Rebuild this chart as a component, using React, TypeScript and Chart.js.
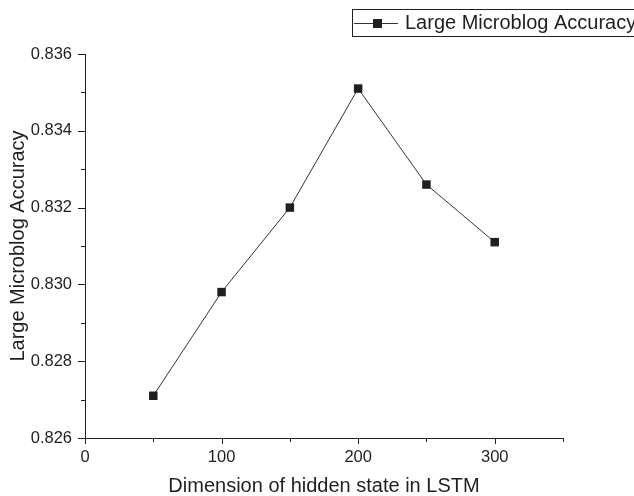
import React, { useEffect, useRef } from "react";
import { Chart, registerables } from "chart.js";

Chart.register(...registerables);

const dims = [50, 100, 150, 200, 250, 300];
const accuracy = [0.8271, 0.8298, 0.832, 0.8351, 0.8326, 0.8311];
const seriesLabel = "Large Microblog Accuracy";
const xTitle = "Dimension of hidden state in LSTM";
const yTitle = "Large Microblog Accuracy";

const FONT = "'Liberation Sans', Arial, sans-serif";
const INK = "#1f1f1f";

const tickPlugin = {
  id: "customTicks",
  afterDraw(chart: any) {
    const ctx = chart.ctx;
    const xs = chart.scales.x;
    const ys = chart.scales.y;
    ctx.save();
    ctx.strokeStyle = INK;
    ctx.lineWidth = 1;
    xs.ticks.forEach((t: any) => {
      const px = Math.round(xs.getPixelForValue(t.value)) + 0.5;
      const major = t.value % 100 === 0;
      const len = major ? 6 : 4;
      ctx.beginPath();
      ctx.moveTo(px, xs.top);
      ctx.lineTo(px, xs.top + len);
      ctx.stroke();
    });
    ys.ticks.forEach((t: any) => {
      const py = Math.round(ys.getPixelForValue(t.value)) + 0.5;
      const major = Math.round(t.value * 1000) % 2 === 0;
      const len = major ? 7 : 4;
      ctx.beginPath();
      ctx.moveTo(ys.right, py);
      ctx.lineTo(ys.right - len, py);
      ctx.stroke();
    });
    // legend
    const lx = 352, ly = 9, lw = 300, lh = 27;
    const cy = ly + lh / 2;
    ctx.strokeRect(lx + 0.5, ly + 0.5, lw, lh);
    ctx.beginPath();
    ctx.moveTo(354, Math.round(cy) + 0.5);
    ctx.lineTo(398, Math.round(cy) + 0.5);
    ctx.strokeStyle = "#333";
    ctx.stroke();
    ctx.fillStyle = INK;
    ctx.fillRect(373, Math.round(cy) - 4, 9, 9);
    ctx.font = `20px ${FONT}`;
    ctx.textBaseline = "alphabetic";
    ctx.textAlign = "left";
    ctx.fillText(seriesLabel, 405, 29);
    ctx.restore();
  },
};

export default function App() {
  const ref = useRef<HTMLCanvasElement>(null);
  useEffect(() => {
    if (!ref.current) return;
    const chart = new Chart(ref.current, {
      type: "line",
      data: {
        datasets: [
          {
            label: seriesLabel,
            data: dims.map((d, i) => ({ x: d, y: accuracy[i] })),
            borderColor: "#333333",
            borderWidth: 1,
            pointStyle: "rect",
            pointRadius: 6,
            pointBackgroundColor: INK,
            pointBorderColor: INK,
            pointBorderWidth: 0,
            tension: 0,
          },
        ],
      },
      options: {
        animation: false,
        responsive: false,
        devicePixelRatio: 1,
        layout: { padding: { left: 0, right: 71, top: 54, bottom: 0 } },
        plugins: { legend: { display: false }, tooltip: { enabled: false } },
        scales: {
          x: {
            type: "linear",
            min: 0,
            max: 350,
            afterFit: (s: any) => {
              s.height = 58;
            },
            ticks: {
              stepSize: 50,
              autoSkip: false,
              maxRotation: 0,
              color: INK,
              font: { family: FONT, size: 16.5 },
              padding: 4,
              callback: (v: any) => (Number(v) % 100 === 0 ? String(v) : ""),
            },
            grid: {
              drawOnChartArea: false,
              drawTicks: true,
              tickLength: 6,
              tickColor: "transparent",
            },
            border: { display: true, color: INK, width: 1 },
            title: {
              display: true,
              text: xTitle,
              color: INK,
              font: { family: FONT, size: 20, lineHeight: 1 },
              padding: { top: 0, bottom: 0 },
            },
          },
          y: {
            type: "linear",
            min: 0.826,
            max: 0.836,
            afterFit: (s: any) => {
              s.width = 85;
            },
            ticks: {
              stepSize: 0.001,
              autoSkip: false,
              color: INK,
              font: { family: FONT, size: 16.5 },
              padding: 6,
              callback: (v: any) =>
                Math.round(Number(v) * 1000) % 2 === 0 ? Number(v).toFixed(3) : "",
            },
            grid: {
              drawOnChartArea: false,
              drawTicks: true,
              tickLength: 7,
              tickColor: "transparent",
            },
            border: { display: true, color: INK, width: 1 },
            title: {
              display: true,
              text: yTitle,
              color: INK,
              font: { family: FONT, size: 20, lineHeight: 1 },
              padding: { top: 8, bottom: 0 },
            },
          },
        },
      },
      plugins: [tickPlugin],
    });
    return () => chart.destroy();
  }, []);
  return (
    <div style={{ position: "absolute", left: 0, top: 0, width: 634, height: 496, background: "#fff" }}>
      <canvas ref={ref} width={634} height={496} style={{ width: 634, height: 496 }} />
    </div>
  );
}
